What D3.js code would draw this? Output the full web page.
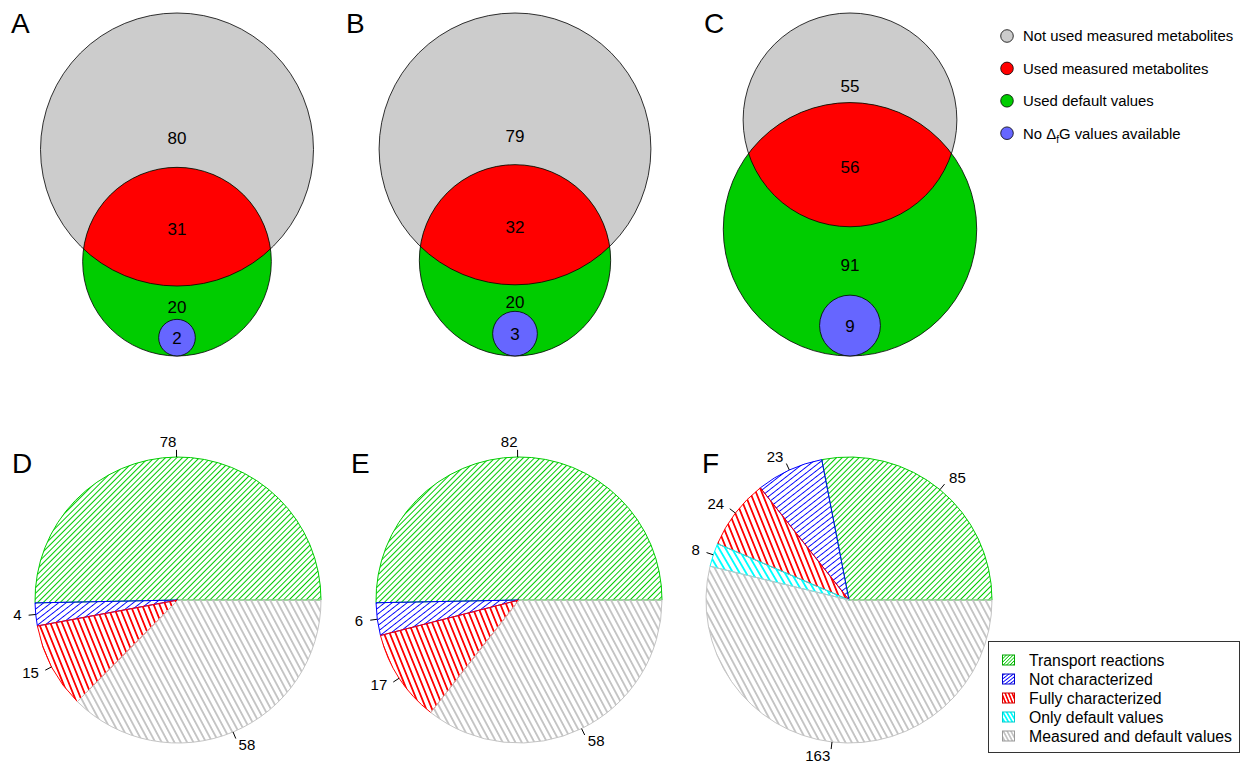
<!DOCTYPE html>
<html>
<head>
<meta charset="utf-8">
<script src="https://cdn.jsdelivr.net/npm/d3@7"></script>
<style>
  html, body { margin: 0; padding: 0; background: #fff; }
  svg { display: block; font-family: "Liberation Sans", Arial, Helvetica, sans-serif; }
</style>
</head>
<body>
<svg id="chart" width="1244" height="762"></svg>
<script>
// ---------------- DATA ----------------
const vennPanels = ["A", "B", "C"];
const notUsedMeasured = [80, 79, 55];
const usedMeasured = [31, 32, 56];
const usedDefault = [20, 20, 91];
const noDfG = [2, 3, 9];

const vennLegend = ["Not used measured metabolites", "Used measured metabolites", "Used default values", "No ΔfG values available"];

const piePanels = ["D", "E", "F"];
const pieCategories = ["Transport reactions", "Not characterized", "Fully characterized", "Only default values", "Measured and default values"];
const pieValuesD = [78, 4, 15, null, 58];
const pieValuesE = [82, 6, 17, null, 58];
const pieValuesF = [85, 23, 24, 8, 163];

// ---------------- STYLE / LAYOUT ----------------
const vennColors = ["#CCCCCC", "#FF0000", "#00CC00", "#6666FF"];
const pieColors = ["#00CD00", "#0000FF", "#FF0000", "#00FFFF", "#C4C4C4"];
const hatchAngles = [45, 38, 112, 120, 118];
const hatchSpacing = [4.0, 4.6, 5.4, 5.6, 5.6];
const vennCX = [177, 515, 850];
const vennTop = 13, vennExtent = 343;
const pieCX = [178, 519, 849], pieCY = 600, pieR = 143;

const svg = d3.select("#chart");
const defs = svg.append("defs");

// hatch patterns
function addHatch(id, i, scale) {
  const s = hatchSpacing[i] * scale;
  const p = defs.append("pattern")
    .attr("id", id)
    .attr("patternUnits", "userSpaceOnUse")
    .attr("width", 20).attr("height", s)
    .attr("patternTransform", `rotate(${-hatchAngles[i]})`);
  p.append("line")
    .attr("x1", -1).attr("x2", 21)
    .attr("y1", s / 2).attr("y2", s / 2)
    .attr("stroke", pieColors[i]).attr("stroke-width", 1)
    .attr("shape-rendering", "crispEdges");
}
pieColors.forEach((c, i) => { addHatch("hatch" + i, i, 1); addHatch("hatchL" + i, i, 0.6); });

// ---------------- VENN ----------------
function lensArea(r1, r2, d) {
  if (d >= r1 + r2) return 0;
  if (d <= Math.abs(r1 - r2)) return Math.PI * Math.min(r1, r2) ** 2;
  const a1 = Math.acos((d * d + r1 * r1 - r2 * r2) / (2 * d * r1));
  const a2 = Math.acos((d * d + r2 * r2 - r1 * r1) / (2 * d * r2));
  const t = 0.5 * Math.sqrt((-d + r1 + r2) * (d + r1 - r2) * (d - r1 + r2) * (d + r1 + r2));
  return r1 * r1 * a1 + r2 * r2 * a2 - t;
}

vennPanels.forEach((name, i) => {
  const nGray = notUsedMeasured[i] + usedMeasured[i];
  const nGreen = usedMeasured[i] + usedDefault[i] + noDfG[i];
  const u = d3.scaleSqrt().domain([0, 1]).range([0, 1]);
  const r1u = u(nGray), r2u = u(nGreen);
  const target = Math.PI * usedMeasured[i];
  let lo = Math.abs(r1u - r2u), hi = r1u + r2u;
  for (let k = 0; k < 80; k++) {
    const mid = (lo + hi) / 2;
    if (lensArea(r1u, r2u, mid) > target) lo = mid; else hi = mid;
  }
  const du = (lo + hi) / 2;
  const k = vennExtent / (r1u + du + r2u);
  const rs = d3.scaleSqrt().domain([0, 1]).range([0, k]);
  const r1 = rs(nGray), r2 = rs(nGreen), rb = rs(noDfG[i]);
  const cx = vennCX[i];
  const cy1 = vennTop + r1;
  const cy2 = cy1 + du * k;
  const cyb = cy2 + r2 - rb;

  const g = svg.append("g");
  const clipId = "clipGreen" + i;
  defs.append("clipPath").attr("id", clipId)
    .append("circle").attr("cx", cx).attr("cy", cy2).attr("r", r2);

  g.append("circle").attr("cx", cx).attr("cy", cy1).attr("r", r1).attr("fill", vennColors[0]);
  g.append("circle").attr("cx", cx).attr("cy", cy2).attr("r", r2).attr("fill", vennColors[2]);
  g.append("circle").attr("cx", cx).attr("cy", cy1).attr("r", r1).attr("fill", vennColors[1])
    .attr("clip-path", `url(#${clipId})`);
  g.append("circle").attr("cx", cx).attr("cy", cy1).attr("r", r1).attr("fill", "none").attr("stroke", "#000").attr("stroke-width", 0.8);
  g.append("circle").attr("cx", cx).attr("cy", cy2).attr("r", r2).attr("fill", "none").attr("stroke", "#000").attr("stroke-width", 0.8);
  g.append("circle").attr("cx", cx).attr("cy", cyb).attr("r", rb).attr("fill", vennColors[3]).attr("stroke", "#000").attr("stroke-width", 0.8);

  const grayTop = cy1 - r1, greenTop = cy2 - r2, grayBottom = cy1 + r1, blueTop = cyb - rb;
  const labels = [
    [notUsedMeasured[i], grayTop + 0.81 * (greenTop - grayTop)],
    [usedMeasured[i], (greenTop + grayBottom) / 2 + 2],
    [usedDefault[i], (grayBottom + blueTop) / 2 + 4],
    [noDfG[i], cyb]
  ];
  g.selectAll("text.v").data(labels).enter().append("text")
    .attr("x", cx).attr("y", d => d[1]).attr("dy", "0.36em")
    .attr("text-anchor", "middle").attr("font-size", 17).text(d => d[0]);

  svg.append("text").attr("x", [11, 346, 704][i]).attr("y", 33)
    .attr("font-size", 28).text(name);
});

// Venn legend
const vl = svg.append("g");
vennLegend.forEach((t, i) => {
  const y = 36 + i * 32.4;
  vl.append("circle").attr("cx", 1007).attr("cy", y).attr("r", 6.3)
    .attr("fill", vennColors[i]).attr("stroke", "#000").attr("stroke-width", 0.8);
  const tx = vl.append("text").attr("x", 1023).attr("y", y).attr("dy", "0.36em").attr("font-size", 14.9);
  if (i === 3) {
    tx.append("tspan").text("No Δ");
    tx.append("tspan").attr("font-size", 10).attr("dy", "4").text("f");
    tx.append("tspan").attr("dy", "-4").text("G values available");
  } else {
    tx.text(t);
  }
});

// ---------------- PIES ----------------
const pieData = [pieValuesD, pieValuesE, pieValuesF];
const pie = d3.pie().sort(null).value(d => d.v)
  .startAngle(Math.PI / 2).endAngle(Math.PI / 2 - 2 * Math.PI);
const arc = d3.arc().innerRadius(0).outerRadius(pieR);

piePanels.forEach((name, i) => {
  const items = pieData[i].map((v, j) => ({ v, j })).filter(d => d.v != null);
  const arcs = pie(items);
  const g = svg.append("g").attr("transform", `translate(${pieCX[i]},${pieCY})`);
  g.selectAll("path").data(arcs).enter().append("path")
    .attr("d", arc)
    .attr("fill", d => `url(#hatch${d.data.j})`)
    .attr("stroke", d => pieColors[d.data.j])
    .attr("stroke-width", 1);
  arcs.forEach(d => {
    const a = (d.startAngle + d.endAngle) / 2;
    const sx = Math.sin(a), sy = -Math.cos(a);
    g.append("line")
      .attr("x1", sx * pieR).attr("y1", sy * pieR)
      .attr("x2", sx * pieR * 1.05).attr("y2", sy * pieR * 1.05)
      .attr("stroke", "#000").attr("stroke-width", 1);
    g.append("text")
      .attr("x", sx * pieR * 1.1).attr("y", sy * pieR * 1.1).attr("dy", "0.3em")
      .attr("text-anchor", sx < 0 ? "end" : "start")
      .attr("font-size", 15).text(d.data.v);
  });
  svg.append("text").attr("x", [12, 351, 702][i]).attr("y", 473)
    .attr("font-size", 28).text(name);
});

// Pie legend
const pl = svg.append("g");
pl.append("rect").attr("x", 988.5).attr("y", 641.5).attr("width", 251).attr("height", 111)
  .attr("fill", "#fff").attr("stroke", "#333").attr("stroke-width", 1);
pieCategories.forEach((t, i) => {
  const y = 660 + i * 19;
  pl.append("rect").attr("x", 1002.5).attr("y", y - 5).attr("width", 12).attr("height", 10)
    .attr("fill", `url(#hatchL${i})`).attr("stroke", i === 4 ? "#999" : d3.color(pieColors[i]).darker(0.6)).attr("stroke-width", 1);
  pl.append("text").attr("x", 1029).attr("y", y).attr("dy", "0.36em").attr("font-size", 15.8).text(t);
});
</script>
</body>
</html>
